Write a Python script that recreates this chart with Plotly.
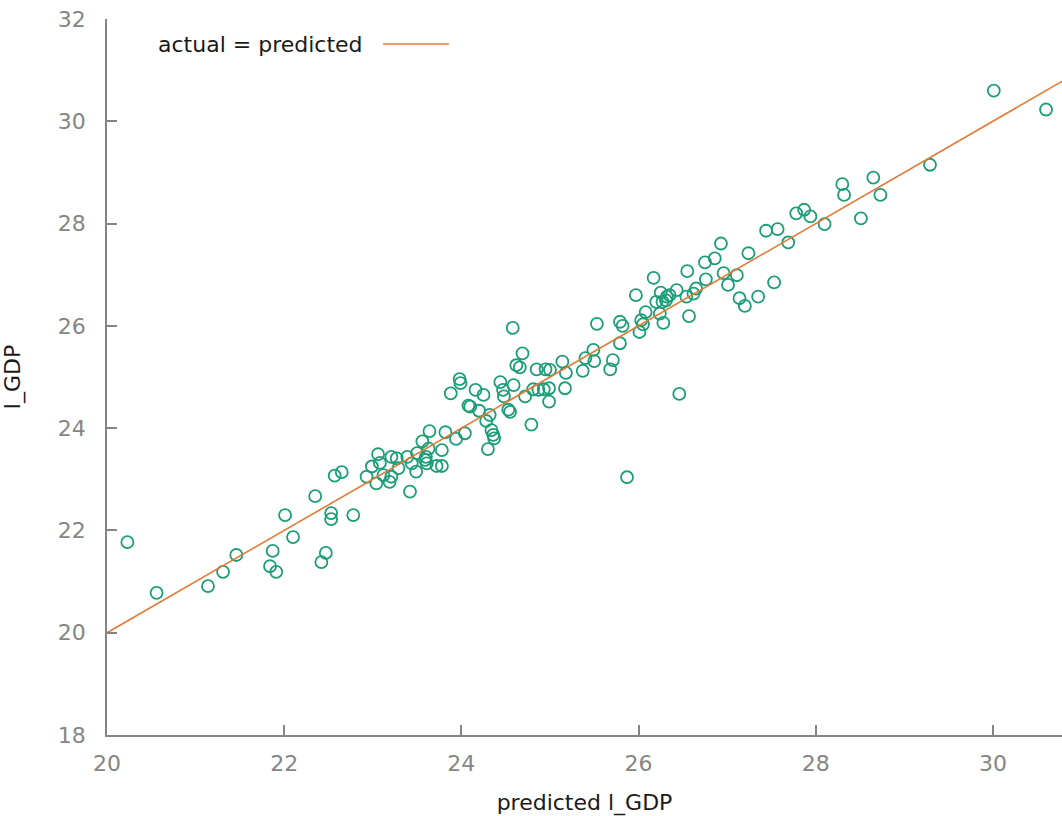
import plotly.graph_objects as go

# predicted l_GDP (x) and actual l_GDP (y)
predicted = [
    20.23, 20.56, 21.14, 21.31, 21.46, 21.87, 21.84, 21.91, 22.01, 22.10,
    22.35, 22.42, 22.47, 22.53, 22.53, 22.57, 22.65, 22.78,
    22.93, 22.99, 23.06, 23.08, 23.04, 23.12, 23.21, 23.19, 23.21, 23.27,
    23.29, 23.39, 23.42, 23.44, 23.49, 23.50, 23.56, 23.59, 23.61, 23.60,
    23.64, 23.63, 23.72, 23.78, 23.78, 23.82, 23.94, 24.04, 23.88, 23.98,
    23.99, 24.08, 24.10, 24.16, 24.20, 24.25, 24.28, 24.32, 24.30, 24.34,
    24.36, 24.37, 24.44, 24.47, 24.48, 24.53, 24.55, 24.59, 24.58, 24.69,
    24.62, 24.66, 24.72, 24.79, 24.81, 24.87, 24.93, 24.85, 24.95, 25.00,
    24.99, 24.99, 25.17, 25.14, 25.18, 25.37, 25.40, 25.49, 25.50, 25.68,
    25.71, 25.53, 25.79, 25.82, 25.79, 25.87, 26.01, 26.03, 26.05, 25.97,
    26.17, 26.08, 26.20, 26.25, 26.27, 26.31, 26.32, 26.35, 26.24, 26.28,
    26.43, 26.46, 26.55, 26.54, 26.57, 26.62, 26.65, 26.75, 26.86, 26.76,
    26.93, 26.96, 27.01, 27.11, 27.24, 27.14, 27.20, 27.35, 27.44, 27.57,
    27.53, 27.69, 27.78, 27.87, 27.94, 28.10, 28.30, 28.32, 28.51, 28.65,
    28.73, 29.29, 30.01, 30.60,
]
actual = [
    21.77, 20.78, 20.91, 21.19, 21.52, 21.60, 21.30, 21.19, 22.30, 21.87,
    22.67, 21.38, 21.56, 22.34, 22.22, 23.07, 23.14, 22.30,
    23.05, 23.25, 23.49, 23.32, 22.92, 23.08, 23.05, 22.95, 23.44, 23.41,
    23.22, 23.44, 22.76, 23.31, 23.15, 23.51, 23.74, 23.38, 23.31, 23.44,
    23.94, 23.60, 23.26, 23.26, 23.57, 23.92, 23.79, 23.90, 24.68, 24.96,
    24.88, 24.44, 24.42, 24.75, 24.34, 24.65, 24.14, 24.26, 23.59, 23.96,
    23.87, 23.80, 24.90, 24.75, 24.62, 24.36, 24.32, 24.84, 25.96, 25.46,
    25.23, 25.19, 24.62, 24.07, 24.76, 24.75, 24.76, 25.15, 25.15, 25.14,
    24.78, 24.52, 24.78, 25.30, 25.08, 25.12, 25.37, 25.53, 25.31, 25.15,
    25.33, 26.04, 26.08, 26.00, 25.66, 23.04, 25.88, 26.11, 26.03, 26.60,
    26.94, 26.27, 26.47, 26.65, 26.47, 26.50, 26.57, 26.60, 26.24, 26.06,
    26.70, 24.67, 27.07, 26.57, 26.19, 26.63, 26.73, 27.24, 27.32, 26.91,
    27.61, 27.03, 26.80, 26.99, 27.42, 26.54, 26.39, 26.57, 27.86, 27.89,
    26.85, 27.63, 28.20, 28.27, 28.14, 27.99, 28.77, 28.56, 28.10, 28.90,
    28.56, 29.15, 30.60, 30.23,
]

# 45-degree reference line (actual = predicted)
line_x = [20, 31]
line_y = [20, 31]

x_ticks = [20, 22, 24, 26, 28, 30]
y_ticks = [18, 20, 22, 24, 26, 28, 30, 32]

GREEN = "#1b9e77"
ORANGE = "#e27a35"
GREY = "#858585"
FONT = "DejaVu Sans"
FS = 22

fig = go.Figure()
fig.add_trace(go.Scatter(
    x=predicted, y=actual, mode="markers",
    marker=dict(symbol="circle-open", size=12, color=GREEN, line=dict(width=1.8, color=GREEN)),
    showlegend=False,
))
fig.add_trace(go.Scatter(
    x=line_x, y=line_y, mode="lines",
    line=dict(color=ORANGE, width=1.6),
    showlegend=False,
))

# legend-like label (text left of key line)
fig.add_annotation(
    xref="paper", yref="paper", x=0.051, y=0.965, xanchor="left", yanchor="middle",
    text="actual = predicted", showarrow=False,
    font=dict(family=FONT, size=FS, color="#1a1a1a"),
)
fig.add_shape(
    type="line", xref="paper", yref="paper",
    x0=0.289, x1=0.358, y0=0.965, y1=0.965,
    line=dict(color=ORANGE, width=1.6),
)

fig.update_layout(
    width=1062, height=816,
    margin=dict(l=107, r=0, t=19, b=81),
    plot_bgcolor="white", paper_bgcolor="white",
    font=dict(family=FONT, size=FS, color=GREY),
)
fig.update_xaxes(
    range=[20, 30.78], tickvals=x_ticks, ticktext=[str(v) for v in x_ticks],
    showgrid=False, zeroline=False, showline=True, linecolor=GREY, linewidth=1.5,
    ticks="inside", ticklen=10, tickwidth=1.5, tickcolor=GREY,
    tickfont=dict(family=FONT, size=FS, color=GREY), ticklabelstandoff=8,
    title=dict(text="predicted l_GDP", font=dict(family=FONT, size=FS, color="#1a1a1a"), standoff=19),
    automargin=False,
)
fig.update_yaxes(
    range=[18, 32], tickvals=y_ticks, ticktext=[str(v) for v in y_ticks],
    showgrid=False, zeroline=False, showline=True, linecolor=GREY, linewidth=1.5,
    ticks="inside", ticklen=10, tickwidth=1.5, tickcolor=GREY,
    tickfont=dict(family=FONT, size=FS, color=GREY), ticklabelstandoff=15,
    title=dict(text="l_GDP", font=dict(family=FONT, size=FS, color="#1a1a1a"), standoff=34),
    automargin=False,
)

fig.write_html("out.html")
